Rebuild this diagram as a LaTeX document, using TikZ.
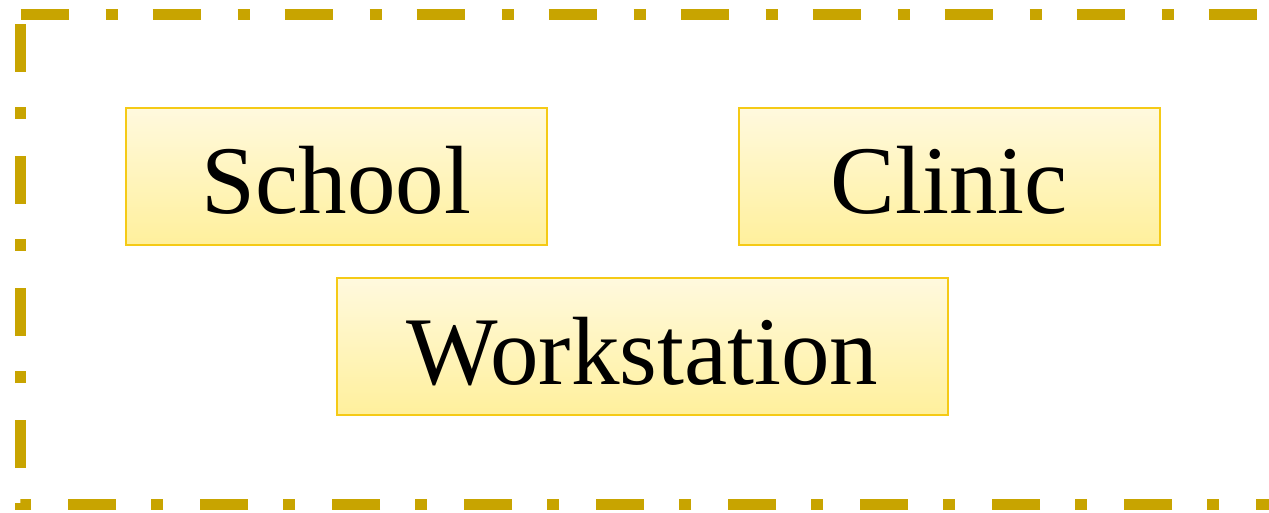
\documentclass[tikz,border=0pt]{standalone}
\usepackage{fontspec}
\setmainfont{Liberation Serif}
\definecolor{frame}{HTML}{C8A400}
\definecolor{boxline}{HTML}{F5CA16}
\definecolor{boxtop}{HTML}{FFF9DE}
\definecolor{boxbot}{HTML}{FFF09C}
\tikzset{
  ybox/.style={draw=boxline, line width=1pt, top color=boxtop, bottom color=boxbot,
    inner sep=0pt, minimum height=68.5pt, text height=37.5pt, text depth=0pt,
    font=\fontsize{48.5pt}{50pt}\selectfont},
  framebox/.style={draw=frame, line width=5.5pt,
    dash pattern=on 24pt off 18.5pt on 6pt off 17.5pt}
}
\begin{document}
\begin{tikzpicture}[x=0.5pt,y=-0.5pt]
\useasboundingbox (0,0) rectangle (1269,513);
\coordinate (tl) at (20.5,14.5);
\coordinate (tr) at (1275.25,14.5);
\coordinate (br) at (1275.25,504.5);
\coordinate (bl) at (20.5,504.5);
\draw[framebox] (tl) -- (tr) -- (br) -- (bl) -- cycle;
\node[ybox, minimum width=210.5pt] (school) at (336.5,176.5) {School};
\node[ybox, minimum width=210.5pt] (clinic) at (949,176.5) {Clinic};
\node[ybox, minimum width=305.5pt] (work) at (642.5,346.5) {Workstation};
\end{tikzpicture}
\end{document}
